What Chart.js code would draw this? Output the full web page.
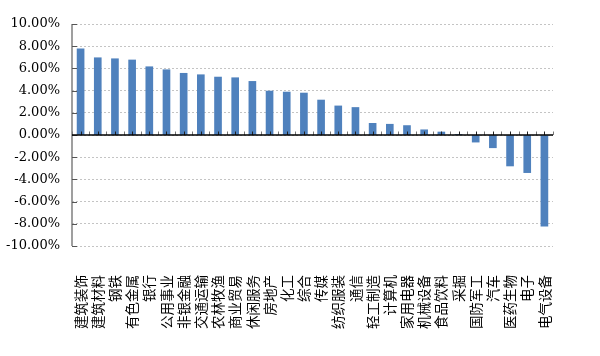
<!DOCTYPE html>
<html>
<head>
<meta charset="utf-8">
<script src="https://cdn.jsdelivr.net/npm/chart.js@4/dist/chart.umd.min.js"></script>
<style>
html,body{margin:0;padding:0;background:#fff;}
#wrap{width:600px;height:356px;position:relative;}
</style>
</head>
<body>
<div id="wrap"><canvas id="c" width="600" height="356"></canvas></div>
<script>
const categories = ['建筑装饰','建筑材料','钢铁','有色金属','银行','公用事业','非银金融','交通运输','农林牧渔','商业贸易','休闲服务','房地产','化工','综合','传媒','纺织服装','通信','轻工制造','计算机','家用电器','机械设备','食品饮料','采掘','国防军工','汽车','医药生物','电子','电气设备'];
const values = [7.77,6.96,6.87,6.76,6.15,5.88,5.56,5.43,5.22,5.16,4.83,3.96,3.87,3.78,3.15,2.62,2.48,1.05,0.97,0.85,0.47,0.27,0.03,-0.64,-1.15,-2.79,-3.39,-8.22];
const yMin = -10, yMax = 10, yStep = 2;

const axisLines = {
  id: 'axisLines',
  afterDatasetsDraw(chart) {
    const {ctx, chartArea, scales} = chart;
    const y0 = scales.y.getPixelForValue(0);
    ctx.save();
    // y axis line
    ctx.strokeStyle = '#7f7f7f';
    ctx.lineWidth = 1.5;
    ctx.setLineDash([]);
    ctx.beginPath();
    ctx.moveTo(chartArea.left, chartArea.top);
    ctx.lineTo(chartArea.left, chartArea.bottom);
    ctx.stroke();
    // inner ticks on y axis
    ctx.strokeStyle = '#555';
    ctx.lineWidth = 1;
    scales.y.ticks.forEach(t => {
      const py = Math.round(scales.y.getPixelForValue(t.value)) + 0.5;
      ctx.beginPath();
      ctx.moveTo(chartArea.left, py);
      ctx.lineTo(chartArea.left + 5, py);
      ctx.stroke();
    });
    // tick marks on zero line
    const n = categories.length;
    for (let i = 0; i <= 2 * n; i++) {
      const px = Math.round(scales.x.getPixelForValue(i / 2 - 0.5)) + 0.5;
      ctx.strokeStyle = i % 2 ? '#222' : '#777';
      ctx.beginPath();
      ctx.moveTo(px, y0 - 3.5);
      ctx.lineTo(px, y0);
      ctx.stroke();
    }
    ctx.strokeStyle = '#000';
    ctx.lineWidth = 1.5;
    ctx.beginPath();
    ctx.moveTo(chartArea.left, y0);
    ctx.lineTo(chartArea.right, y0);
    ctx.stroke();
    ctx.restore();
  }
};

new Chart(document.getElementById('c'), {
  type: 'bar',
  data: {
    labels: categories,
    datasets: [{
      data: values,
      backgroundColor: '#4f81bd',
      borderWidth: 0,
      barThickness: 7
    }]
  },
  options: {
    responsive: false,
    animation: false,
    layout: { padding: { top: 24, right: 47, left: 0, bottom: 0 } },
    plugins: { legend: { display: false }, tooltip: { enabled: false } },
    scales: {
      x: {
        grid: { display: false, drawTicks: false },
        border: { display: false },
        ticks: {
          autoSkip: false,
          maxRotation: 90,
          minRotation: 90,
          padding: 29,
          color: '#000',
          font: { family: '"Noto Sans CJK SC"', size: 13.5 }
        },
        afterFit(s) { s.height = 110; }
      },
      y: {
        min: yMin,
        max: yMax,
        grid: { color: '#c4c4c4', drawTicks: false },
        border: { display: false, dash: [2, 2] },
        ticks: {
          stepSize: yStep,
          padding: 12,
          color: '#000',
          font: { family: '"DejaVu Serif"', size: 13 },
          callback: v => v.toFixed(2) + '%'
        },
        afterFit(s) { s.width = 72; }
      }
    }
  },
  plugins: [axisLines]
});
</script>
</body>
</html>
